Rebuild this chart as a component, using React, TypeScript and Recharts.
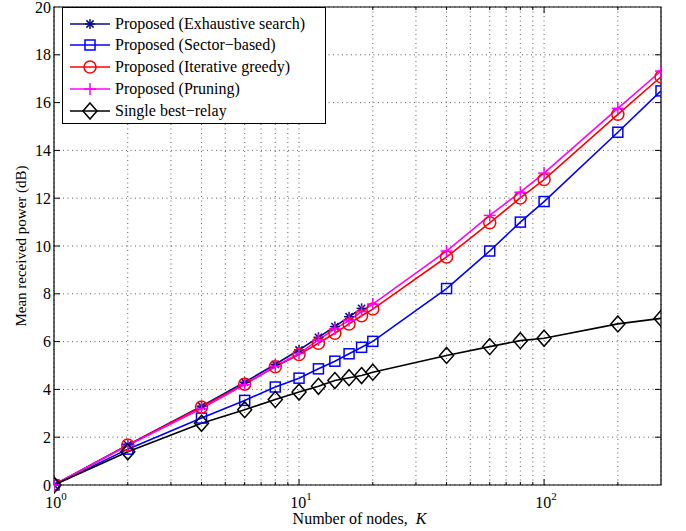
import * as React from "react";
import {
  LineChart,
  Line,
  XAxis,
  YAxis,
  CartesianGrid,
  Legend,
  ReferenceArea,
} from "recharts";

// number of nodes K
const K_VALUES = [1, 2, 4, 6, 8, 10, 12, 14, 16, 18, 20, 40, 60, 80, 100, 200, 300];

// mean received power (dB)
const EXHAUSTIVE = [0, 1.68, 3.3, 4.3, 5.05, 5.65, 6.18, 6.63, 7.04, 7.39];
const SECTOR = [0, 1.5, 2.8, 3.54, 4.1, 4.47, 4.86, 5.18, 5.49, 5.76, 6.01, 8.22, 9.79, 11.0, 11.86, 14.76, 16.49];
const GREEDY = [0, 1.67, 3.26, 4.22, 4.95, 5.46, 5.93, 6.35, 6.74, 7.08, 7.36, 9.54, 10.97, 12.01, 12.78, 15.51, 17.08];
const PRUNING = [0, 1.65, 3.2, 4.2, 4.97, 5.5, 6.07, 6.53, 6.88, 7.26, 7.57, 9.79, 11.28, 12.25, 13.05, 15.76, 17.32];
const SINGLE = [0, 1.39, 2.58, 3.15, 3.58, 3.89, 4.13, 4.37, 4.49, 4.58, 4.72, 5.42, 5.79, 6.04, 6.14, 6.74, 6.97];

const X_TICKS = [1, 2, 3, 4, 5, 6, 7, 8, 9, 10, 20, 30, 40, 50, 60, 70, 80, 90, 100, 200, 300];
const Y_TICKS = [0, 2, 4, 6, 8, 10, 12, 14, 16, 18, 20];

const SERIES = [
  { key: "exhaustive", name: "Proposed (Exhaustive search)", color: "#0a0a8c", shape: "star" },
  { key: "sector", name: "Proposed (Sector\u2212based)", color: "#0000ff", shape: "square" },
  { key: "greedy", name: "Proposed (Iterative greedy)", color: "#ff0000", shape: "circle" },
  { key: "pruning", name: "Proposed (Pruning)", color: "#ff00ff", shape: "plus" },
  { key: "single", name: "Single best\u2212relay", color: "#000000", shape: "diamond" },
];

const data = K_VALUES.map((k, i) => ({
  k,
  exhaustive: EXHAUSTIVE[i] ?? null,
  sector: SECTOR[i],
  greedy: GREEDY[i],
  pruning: PRUNING[i],
  single: SINGLE[i],
}));

const W = 686;
const H = 531;
const TOP = 7;
const BOTTOM = 485;
const LEFT = 54;
const RIGHT = 661;
const FONT = "'Liberation Serif', 'Times New Roman', serif";

function Marker({ shape, cx, cy, color }: { shape: string; cx: number; cy: number; color: string }) {
  const sw = 1.5;
  if (shape === "star") {
    const r = 5;
    const d = 3.6;
    return (
      <g stroke={color} strokeWidth={sw}>
        <line x1={cx - r} y1={cy} x2={cx + r} y2={cy} />
        <line x1={cx} y1={cy - r} x2={cx} y2={cy + r} />
        <line x1={cx - d} y1={cy - d} x2={cx + d} y2={cy + d} />
        <line x1={cx - d} y1={cy + d} x2={cx + d} y2={cy - d} />
      </g>
    );
  }
  if (shape === "square") {
    return <rect x={cx - 5} y={cy - 5} width={10} height={10} fill="none" stroke={color} strokeWidth={sw} />;
  }
  if (shape === "circle") {
    return <circle cx={cx} cy={cy} r={6} fill="none" stroke={color} strokeWidth={sw} />;
  }
  if (shape === "plus") {
    return (
      <g stroke={color} strokeWidth={sw}>
        <line x1={cx - 6} y1={cy} x2={cx + 6} y2={cy} />
        <line x1={cx} y1={cy - 6} x2={cx} y2={cy + 6} />
      </g>
    );
  }
  return (
    <polygon
      points={`${cx},${cy - 8} ${cx + 7},${cy} ${cx},${cy + 8} ${cx - 7},${cy}`}
      fill="none"
      stroke={color}
      strokeWidth={sw}
    />
  );
}

function XTick(props: any) {
  const { x, payload } = props;
  const v = payload.value;
  const exp = Math.round(Math.log10(v));
  const major = Math.abs(Math.pow(10, exp) - v) < 1e-9;
  const len = major ? 6 : 3;
  const edge = v === 1 || v === 300;
  return (
    <g>
      {!edge && (
        <g stroke="#000" strokeWidth={1}>
          <line x1={x} y1={BOTTOM} x2={x} y2={BOTTOM - len} />
          <line x1={x} y1={TOP} x2={x} y2={TOP + len} />
        </g>
      )}
      {major && (
        <text x={x + 2} y={BOTTOM + 23} textAnchor="middle" fontSize={16} fontFamily={FONT} fill="#000">
          10
          <tspan dy={-8} fontSize={11}>
            {exp}
          </tspan>
        </text>
      )}
    </g>
  );
}

function YTick(props: any) {
  const { y, payload } = props;
  const v = payload.value;
  const edge = v === 0 || v === 20;
  return (
    <g>
      {!edge && (
        <g stroke="#000" strokeWidth={1}>
          <line x1={LEFT} y1={y} x2={LEFT + 6} y2={y} />
          <line x1={RIGHT} y1={y} x2={RIGHT - 6} y2={y} />
        </g>
      )}
      <text x={LEFT - 3} y={y + 5.5} textAnchor="end" fontSize={16} fontFamily={FONT} fill="#000">
        {v}
      </text>
    </g>
  );
}

function LegendBox() {
  const rowY = [17, 38, 60, 82, 104];
  return (
    <svg width={264} height={117} style={{ display: "block" }}>
      <rect x={0.5} y={0.5} width={263} height={116} fill="#fff" stroke="#000" strokeWidth={1} />
      {SERIES.map((s, i) => (
        <g key={s.key}>
          <line x1={8} y1={rowY[i]} x2={48} y2={rowY[i]} stroke={s.color} strokeWidth={1.6} />
          <Marker shape={s.shape} cx={28} cy={rowY[i]} color={s.color} />
          <text x={53} y={rowY[i] + 5} fontSize={16} fontFamily={FONT} fill="#000">
            {s.name}
          </text>
        </g>
      ))}
    </svg>
  );
}

export default function App() {
  return (
    <div style={{ position: "absolute", left: 0, top: 0, width: W, height: H, background: "#fff" }}>
      <LineChart width={W} height={H} data={data} margin={{ top: TOP, right: W - RIGHT, left: 0, bottom: 0 }}>
        <CartesianGrid stroke="#333" strokeWidth={0.8} strokeDasharray="1 3.5" />
        <ReferenceArea x1={1} x2={300} y1={0} y2={20} fill="none" stroke="#000" strokeWidth={1.2} ifOverflow="visible" />
        <XAxis
          dataKey="k"
          type="number"
          scale="log"
          domain={[1, 300]}
          ticks={X_TICKS}
          interval={0}
          allowDataOverflow
          axisLine={false}
          tickLine={false}
          tick={<XTick />}
          height={H - BOTTOM}
          label={() => (
            <text
              x={(LEFT + RIGHT) / 2 + 2}
              y={BOTTOM + 39}
              textAnchor="middle"
              fontSize={16}
              fontFamily={FONT}
              fill="#000"
            >
              Number of nodes,{"\u00a0 "}
              <tspan fontStyle="italic">K</tspan>
            </text>
          )}
        />
        <YAxis
          type="number"
          domain={[0, 20]}
          ticks={Y_TICKS}
          interval={0}
          axisLine={false}
          tickLine={false}
          tick={<YTick />}
          width={LEFT}
          label={() => (
            <text
              x={26}
              y={(TOP + BOTTOM) / 2}
              transform={`rotate(-90, 26, ${(TOP + BOTTOM) / 2})`}
              textAnchor="middle"
              fontSize={15}
              fontFamily={FONT}
              fill="#000"
            >
              Mean received power (dB)
            </text>
          )}
        />
        <Legend
          layout="vertical"
          align="center"
          verticalAlign="middle"
          wrapperStyle={{ left: 62, top: 7, width: 264 }}
          content={() => <LegendBox />}
        />
        {SERIES.map((s) => (
          <Line
            key={s.key}
            dataKey={s.key}
            name={s.name}
            type="linear"
            stroke={s.color}
            strokeWidth={1.6}
            isAnimationActive={false}
            activeDot={false}
            dot={(p: any) =>
              p.cx == null || p.cy == null || p.value == null ? (
                <g key={`${s.key}-${p.index}`} />
              ) : (
                <Marker key={`${s.key}-${p.index}`} shape={s.shape} cx={p.cx} cy={p.cy} color={s.color} />
              )
            }
          />
        ))}
      </LineChart>
    </div>
  );
}
